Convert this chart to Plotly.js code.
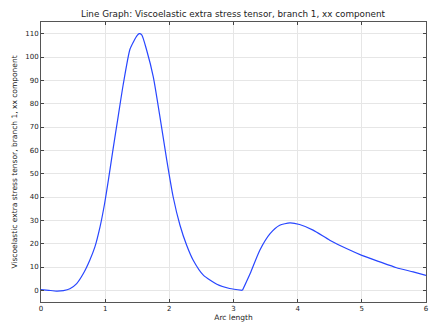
<!DOCTYPE html>
<html>
<head>
<meta charset="utf-8">
<script src="https://cdn.plot.ly/plotly-3.0.1.min.js"></script>
<style>html,body{margin:0;padding:0;background:#fff;}#chart{width:438px;height:330px;}</style>
</head>
<body>
<div id="chart"></div>
<script>
const arcLength = [0, 0.12, 0.24, 0.35, 0.45, 0.556, 0.66, 0.76, 0.84, 0.92, 0.99, 1.05, 1.12, 1.2, 1.28, 1.386, 1.45, 1.5, 1.53, 1.57, 1.646, 1.75, 1.85, 1.96, 2.06, 2.165, 2.27, 2.37, 2.53, 2.74, 2.94, 3.14, 3.26, 3.41, 3.57, 3.72, 3.88, 4.03, 4.24, 4.5, 4.76, 5.0, 5.28, 5.54, 5.8, 6.0];
const stressXX = [0.3, 0.0, -0.3, -0.1, 0.7, 2.9, 7.2, 12.9, 18.6, 27.2, 37, 47.2, 60, 74, 88, 103.3, 107, 109.3, 110, 109.5, 103, 91.5, 75, 55.8, 40, 28, 19.3, 13, 6.5, 2.6, 0.8, 0, 7.2, 17.2, 24.3, 27.9, 28.9, 28.2, 25.8, 21.5, 17.9, 15.0, 12.2, 9.7, 7.9, 6.4];
const xTicks = [0, 1, 2, 3, 4, 5, 6];
const yTicks = [0, 10, 20, 30, 40, 50, 60, 70, 80, 90, 100, 110];

// split at the sharp minimum so the kink stays sharp
const kink = arcLength.indexOf(3.14);
const segments = [[0, kink + 1], [kink, arcLength.length]];

const fontFam = 'DejaVu Sans, sans-serif';
const axisCommon = {
  showline: true, linecolor: '#555', linewidth: 1, mirror: 'ticks',
  ticks: 'inside', ticklen: 3, tickcolor: '#444', tickwidth: 1,
  showgrid: true, gridcolor: '#e6e6e6', gridwidth: 1, zeroline: false,
  tickfont: {family: fontFam, size: 7, color: '#222'}
};
const traces = segments.map(([a, b]) => ({
  x: arcLength.slice(a, b), y: stressXX.slice(a, b), type: 'scatter', mode: 'lines',
  line: {color: 'rgb(40,70,255)', width: 1.2, shape: 'spline', smoothing: 0.6}, hoverinfo: 'none'
}));
const layout = {
  width: 438, height: 330,
  margin: {l: 41, r: 12, t: 22, b: 28},
  paper_bgcolor: '#fff', plot_bgcolor: '#fff',
  showlegend: false,
  title: {text: 'Line Graph: Viscoelastic extra stress tensor, branch 1, xx component',
          font: {family: fontFam, size: 8.8, color: '#222'}, x: 0.532, xanchor: 'center', y: 0.957, yanchor: 'middle'},
  xaxis: Object.assign({}, axisCommon, {
    range: [0, 6], tickvals: xTicks, ticktext: xTicks.map(String),
    title: {text: 'Arc length', font: {family: fontFam, size: 7.5, color: '#222'}, standoff: 2}
  }),
  yaxis: Object.assign({}, axisCommon, {
    range: [-5, 115], tickvals: yTicks, ticktext: yTicks.map(String),
    title: {text: 'Viscoelastic extra stress tensor, branch 1, xx component', font: {family: fontFam, size: 7.5, color: '#222'}, standoff: 6}
  })
};
Plotly.newPlot('chart', traces, layout, {staticPlot: true, displayModeBar: false});
</script>
</body>
</html>
